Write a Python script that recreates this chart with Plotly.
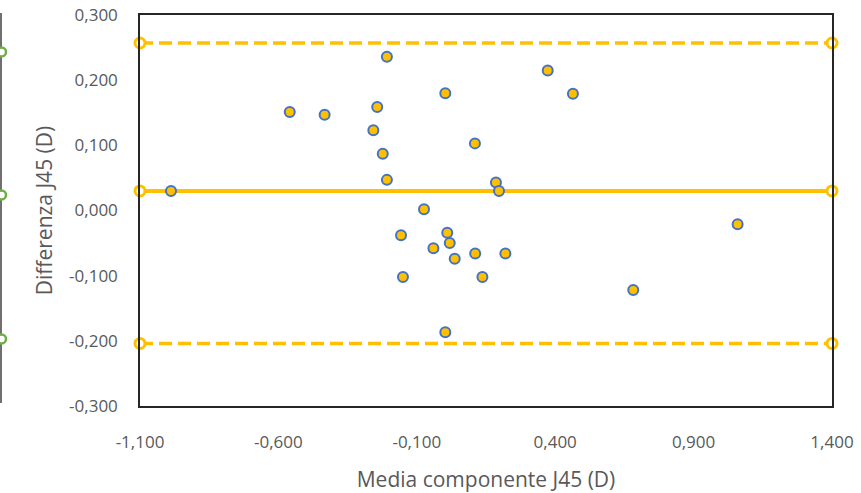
import plotly.graph_objects as go

# ---- data ----
media_j45 = [-0.988, -0.559, -0.433, -0.208, -0.243, -0.257, -0.223, -0.208, 0.003, -0.074,
             0.110, 0.186, 0.197, -0.157, 0.010, 0.019, -0.040, 0.037, 0.111, 0.220,
             -0.150, 0.137, 0.682, 1.059, 0.003, 0.373, 0.464]
diff_j45 = [0.030, 0.151, 0.147, 0.236, 0.159, 0.123, 0.087, 0.047, 0.180, 0.002,
            0.103, 0.043, 0.030, -0.038, -0.034, -0.050, -0.058, -0.074, -0.066, -0.066,
            -0.102, -0.102, -0.122, -0.021, -0.187, 0.215, 0.179]
line_x = [-1.1, 1.4]
mean_diff = 0.030
upper_loa = 0.257
lower_loa = -0.204
x_ticks = [-1.1, -0.6, -0.1, 0.4, 0.9, 1.4]
x_tick_text = ["-1,100", "-0,600", "-0,100", "0,400", "0,900", "1,400"]
y_ticks = [-0.3, -0.2, -0.1, 0.0, 0.1, 0.2, 0.3]
y_tick_text = ["-0,300", "-0,200", "-0,100", "0,000", "0,100", "0,200", "0,300"]

ORANGE = "#FFC000"
BLUE = "#4472C4"
GRAY = "#595959"
FONT = "Open Sans"

fig = go.Figure()

end_marker = dict(symbol="circle", size=10, color="white", line=dict(color=ORANGE, width=3))

fig.add_trace(go.Scatter(x=line_x, y=[upper_loa, upper_loa], mode="lines+markers",
                         line=dict(color=ORANGE, width=3.5, dash="13px,6px"),
                         marker=end_marker, cliponaxis=False, showlegend=False, hoverinfo="skip"))
fig.add_trace(go.Scatter(x=line_x, y=[lower_loa, lower_loa], mode="lines+markers",
                         line=dict(color=ORANGE, width=3.5, dash="13px,6px"),
                         marker=end_marker, cliponaxis=False, showlegend=False, hoverinfo="skip"))
fig.add_trace(go.Scatter(x=line_x, y=[mean_diff, mean_diff], mode="lines+markers",
                         line=dict(color=ORANGE, width=4),
                         marker=end_marker, cliponaxis=False, showlegend=False, hoverinfo="skip"))

fig.add_trace(go.Scatter(x=media_j45, y=diff_j45, mode="markers",
                         marker=dict(symbol="circle", size=10, color=ORANGE,
                                     line=dict(color=BLUE, width=2)),
                         cliponaxis=False, showlegend=False))

# decorative fragment of a neighbouring chart at the left edge
W, L, T, B = 692.0, 140.0, 15.0, 406.0
def px(x):
    return (x - L) / W
def py(y):
    return (B - y) / (B - T)

shapes = [dict(type="line", xref="paper", yref="paper", x0=px(1), x1=px(1),
               y0=py(13), y1=py(403), line=dict(color="#404040", width=1.5), layer="above")]
for cy in [52, 195, 339]:
    shapes.append(dict(type="circle", xref="paper", yref="paper",
                       x0=px(-3), x1=px(6), y0=py(cy + 4.5), y1=py(cy - 4.5),
                       line=dict(color="#70AD47", width=2.5), fillcolor="white", layer="above"))

fig.update_layout(
    width=861, height=493,
    margin=dict(l=140, r=29, t=15, b=87),
    paper_bgcolor="white", plot_bgcolor="white",
    font=dict(family=FONT, size=17, color=GRAY),
    shapes=shapes,
    xaxis=dict(range=[-1.1, 1.4], tickvals=x_ticks, ticktext=x_tick_text, automargin=False,
               showgrid=False, zeroline=False, showline=True, mirror=True,
               linecolor="#262626", linewidth=1.5, ticks="", ticklabelstandoff=20,
               tickfont=dict(family=FONT, size=17, color=GRAY),
               title=dict(text="Media componente J45 (D)", standoff=22,
                          font=dict(family=FONT, size=21, color=GRAY))),
    yaxis=dict(range=[-0.3, 0.3], tickvals=y_ticks, ticktext=y_tick_text, automargin=False,
               showgrid=False, zeroline=False, showline=True, mirror=True,
               linecolor="#262626", linewidth=1.5, ticks="", ticklabelstandoff=17,
               tickfont=dict(family=FONT, size=17, color=GRAY),
               title=dict(text="Differenza J45 (D)", standoff=11,
                          font=dict(family=FONT, size=21, color=GRAY))),
)

fig.write_html("out.html")
